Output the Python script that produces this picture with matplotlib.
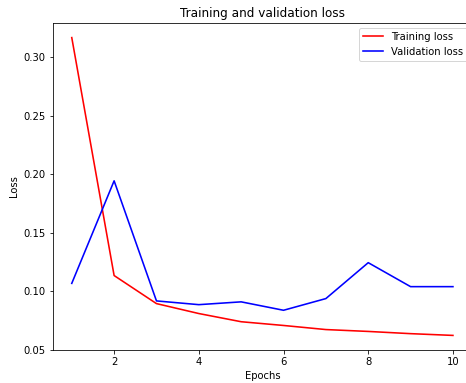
import matplotlib
matplotlib.use('Agg')
import matplotlib.pyplot as plt

epochs = [1, 2, 3, 4, 5, 6, 7, 8, 9, 10]
train_loss = [0.317, 0.1135, 0.0895, 0.0810, 0.0740, 0.0708, 0.0673, 0.0657, 0.0638, 0.0623]
val_loss = [0.1068, 0.1945, 0.0918, 0.0886, 0.0910, 0.0838, 0.0938, 0.1245, 0.1040, 0.1040]

W, H = 466, 383
DPI = 72
fig = plt.figure(figsize=(W / DPI, H / DPI), dpi=DPI)
# axes placed so the right spine falls just past the image edge, as in the reference
ax = fig.add_axes([52.7 / W, (H - 350.3) / H, (472 - 52.7) / W, (350.3 - 22.7) / H])

ax.plot(epochs, train_loss, 'r', label='Training loss', lw=1.6)
ax.plot(epochs, val_loss, 'b', label='Validation loss', lw=1.6)
ax.set_title('Training and validation loss')
ax.set_xlabel('Epochs')
ax.set_ylabel('Loss')
ax.legend(loc='upper right')

fig.savefig('out.png', dpi=DPI)
